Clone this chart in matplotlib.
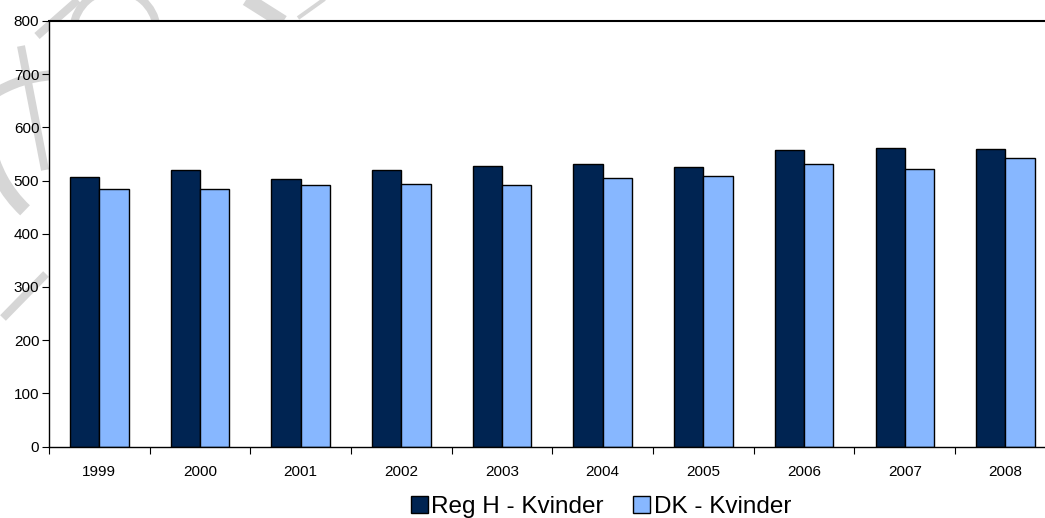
import numpy as np
import matplotlib
matplotlib.use("Agg")
import matplotlib.pyplot as plt
from matplotlib.lines import Line2D
from matplotlib.patches import Arc

plt.rcParams['font.family'] = ['Liberation Sans', 'DejaVu Sans']

years = ['1999', '2000', '2001', '2002', '2003', '2004', '2005', '2006', '2007', '2008']
reg_h = [507, 520, 502, 520, 527, 532, 525, 557, 561, 559]
dk = [484, 485, 491, 493, 491, 505, 508, 532, 522, 542]

W, H = 1045, 518
fig = plt.figure(figsize=(W / 100, H / 100), dpi=100)

# faint grey pen strokes in the margin, behind the plot area
grey = '#d6d6d6'

def px(x, y):
    return x / W, 1 - y / H

strokes = [
    ((37, 36), (78, 0), 8),
    ((245, -2), (283, 22), 14),
    ((298, 18), (326, -2), 4),
    ((21, 46), (45, 170), 8),
    ((3, 318), (46, 274), 8),
]
for (x0, y0), (x1, y1), lw in strokes:
    a, b = px(x0, y0)
    c, d = px(x1, y1)
    fig.add_artist(Line2D([a, c], [b, d], transform=fig.transFigure, color=grey,
                          lw=lw * 0.72, solid_capstyle='butt', zorder=0))

arcs = [
    # centre (px), radius (px), theta1, theta2, width (px)
    ((115, 32), 42, 15, 165, 8),
    ((60, 200), 125, 90, 128, 10),
    ((110, 120), 124, 200, 245, 14),
]
for (cx, cy), r, t1, t2, lw in arcs:
    fig.add_artist(Arc(px(cx, cy), 2 * r / W, 2 * r / H, theta1=t1, theta2=t2,
                       transform=fig.transFigure, color=grey, lw=lw * 0.72, zorder=0))

ax = fig.add_axes([49 / W, 1 - 446.5 / H, (1055.7 - 49) / W, (446.5 - 21) / H])
ax.set_facecolor('white')
ax.set_zorder(1)

x = np.arange(len(years))
bw = 0.29
ax.bar(x - bw / 2, reg_h, bw, color='#002452', edgecolor='black', linewidth=1,
       label='Reg H - Kvinder')
ax.bar(x + bw / 2, dk, bw, color='#87b7ff', edgecolor='black', linewidth=1,
       label='DK - Kvinder')

ax.set_xlim(-0.5, len(years) - 0.5)
ax.set_ylim(0, 800)
ax.set_yticks(np.arange(0, 801, 100))
ax.set_xticks(x)
ax.set_xticklabels(years)
ax.set_xticks(np.arange(-0.5, len(years), 1), minor=True)
ax.tick_params(axis='x', which='major', length=0, pad=13, labelsize=11)
ax.tick_params(axis='x', which='minor', length=5, direction='out', width=0.8)
ax.tick_params(axis='y', length=5, direction='out', width=0.8, labelsize=11, pad=2)

for s in ['left', 'bottom']:
    ax.spines[s].set_linewidth(1.0)
ax.spines['top'].set_linewidth(1.5)
ax.spines['right'].set_visible(False)

fig.legend(loc='center', bbox_to_anchor=(601 / W, 1 - 507 / H), ncol=2, frameon=False,
           fontsize=17.5, handlelength=0.7, handleheight=0.7, handletextpad=0.15,
           columnspacing=1.2, borderpad=0)

fig.savefig('out.png', dpi=100)
